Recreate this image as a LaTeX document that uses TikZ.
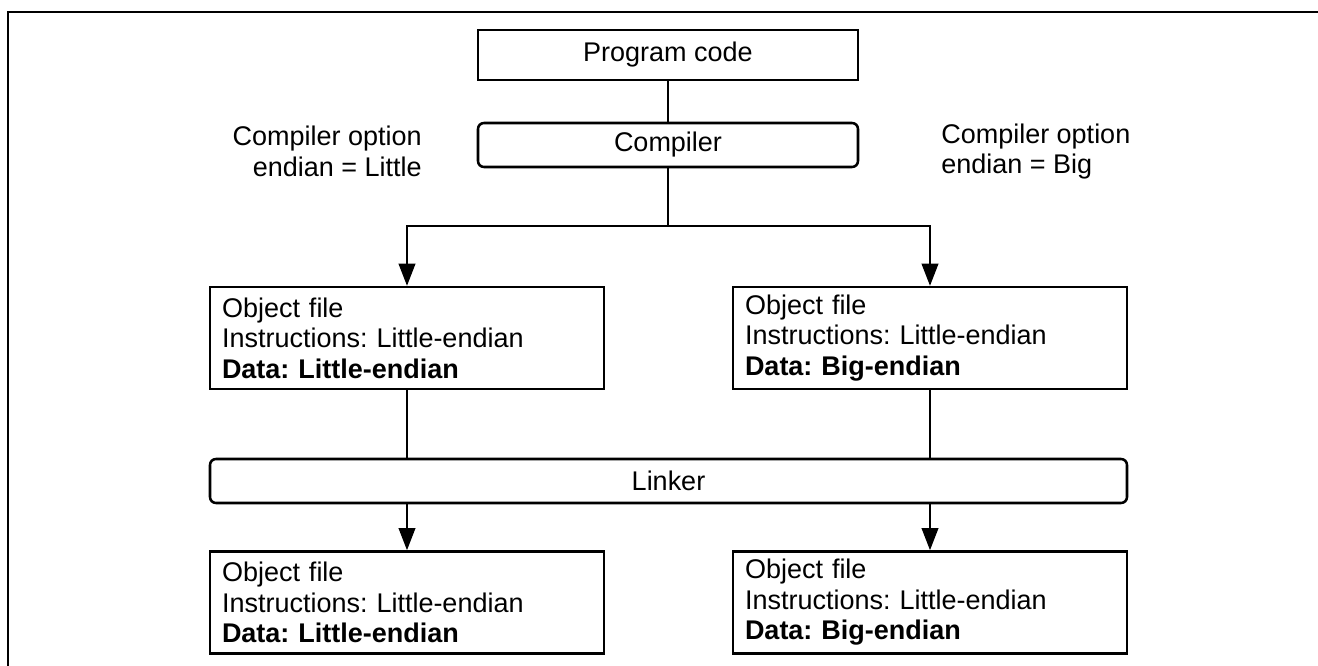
\documentclass[tikz,border=0pt]{standalone}
\usepackage{fontspec}
\setmainfont{Liberation Sans}
\usepackage{tikz}
\usetikzlibrary{arrows.meta, positioning}
\frenchspacing
\tikzstyle{source} = [rectangle, minimum width=9.5cm, minimum height=1.25cm, text centered, draw=black, line width=1.8pt]
\tikzstyle{tool} = [rectangle, rounded corners=0.15cm, minimum height=1.1cm, text centered, draw=black, line width=1.8pt]
\tikzstyle{objfile} = [rectangle, text width=9.25cm, inner xsep=0.3cm, minimum height=2.55cm, align=left, draw=black, line width=1.8pt]
\tikzstyle{option} = [inner sep=0pt]
\tikzstyle{line} = [line width=0.8pt]
\tikzstyle{arrow} = [line width=0.8pt,-{Triangle[width=0.42cm,length=0.55cm]}]

\begin{document}
\begin{tikzpicture}[font=\fontsize{19.2}{21.7}\selectfont]
		\useasboundingbox (0,0) rectangle (32.95,-16.65);
		\draw [line width=1.6pt] (0.2,-16.65) |- (32.95,-0.3);
		
		\node (code) [source] at (16.7,-1.375) {Program code};
		\node (compiler) [tool, minimum width=9.5cm] at (16.7,-3.625) {Compiler};
		\node (optLittle) [option, anchor=east, align=right] at (10.55,-3.79) {Compiler option\\endian = Little};
		\node (optBig) [option, anchor=west, align=left] at (23.525,-3.79) {Compiler option\\endian = Big};
		\coordinate (split) at (16.7,-5.65);
		\node (objL) [objfile] at (10.175,-8.45) {Object file\\Instructions: Little-endian\\\textbf{Data: Little-endian}};
		\node (objB) [objfile] at (23.25,-8.45) {Object file\\Instructions: Little-endian\\\textbf{Data: Big-endian}};
		\node (linker) [tool, minimum width=22.925cm] at (16.7125,-12.025) {Linker};
		\node (outL) [objfile] at (10.175,-15.06) {Object file\\Instructions: Little-endian\\\textbf{Data: Little-endian}};
		\node (outB) [objfile] at (23.25,-15.06) {Object file\\Instructions: Little-endian\\\textbf{Data: Big-endian}};
		
		\draw [line] (code) -- (compiler);
		\draw [line] (compiler) -- (split);
		\draw [arrow] (split) -| (objL.north);
		\draw [arrow] (split) -| (objB.north);
		\draw [line] (objL.south) -- (objL.south |- linker.north);
		\draw [line] (objB.south) -- (objB.south |- linker.north);
		\draw [arrow] (outL.north |- linker.south) -- (outL.north);
		\draw [arrow] (outB.north |- linker.south) -- (outB.north);
	\end{tikzpicture}
\end{document}
